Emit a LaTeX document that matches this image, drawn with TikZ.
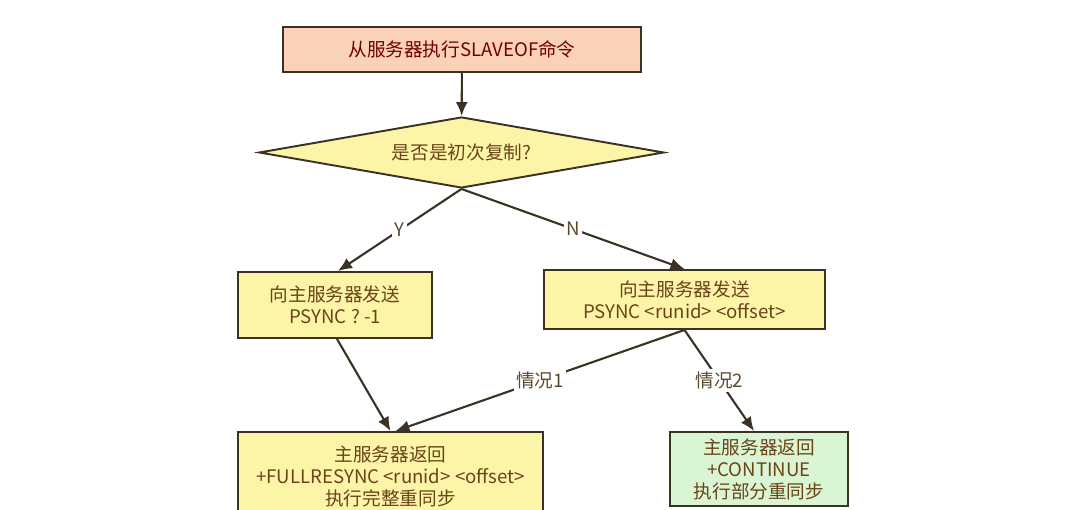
\documentclass[tikz,border=0pt]{standalone}
\usepackage{fontspec}
\setmainfont{Noto Sans CJK SC}
\usepackage{tikz}
\usetikzlibrary{arrows.meta,shapes.geometric}
\definecolor{edgecol}{HTML}{3A3222}
\definecolor{salmonfill}{HTML}{F9D2B8}
\definecolor{yellowfill}{HTML}{FCF5A8}
\definecolor{greenfill}{HTML}{DAF5D4}
\definecolor{boxtext}{HTML}{6A4418}
\definecolor{labeltext}{HTML}{5C4A2E}

\begin{document}
\begin{tikzpicture}[every node/.style={font=\fontsize{10.6}{12.5}\selectfont, align=center, text=boxtext},
	>={Latex[length=2.8mm,width=2.4mm]},
	box/.style={draw=edgecol, line width=1.1pt, fill=yellowfill, inner sep=0pt},
	flow/.style={->, draw=edgecol, line width=1.2pt},
	tag/.style={fill=white, inner sep=1.5pt, text=labeltext}]
	\useasboundingbox (0,0) rectangle (21.6,-10.2);
	\begin{scope}
	\clip (0,0) rectangle (21.6,-10.2);
	\node[box, fill=salmonfill, text=red!45!black, minimum width=7.16cm, minimum height=0.9cm] (start) at (9.24,-0.99) {从服务器执行SLAVEOF命令};
	\node[box, diamond, aspect=5.7, minimum width=8.1cm, minimum height=1.42cm] (first) at (9.23,-3.05) {是否是初次复制?};
	\node[box, minimum width=3.88cm, minimum height=1.32cm] (full) at (6.70,-6.10) {向主服务器发送\\PSYNC ? -1};
	\node[box, minimum width=5.62cm, minimum height=1.18cm] (part) at (13.69,-5.99) {向主服务器发送\\PSYNC <runid> <offset>};
	\node[box, minimum width=6.10cm, minimum height=1.76cm] (fullret) at (7.81,-9.52) {主服务器返回\\+FULLRESYNC <runid> <offset>\\执行完整重同步};
	\node[box, fill=greenfill, minimum width=3.56cm, minimum height=1.48cm] (contret) at (15.18,-9.38) {主服务器返回\\+CONTINUE\\执行部分重同步};
	\end{scope}
	\draw[flow] (start) -- (first);
	\draw[flow] (first.south) -- node[tag] {Y} ([xshift=0.06cm]full.north);
	\draw[flow] (first.south) -- node[tag] {N} (part.north);
	\draw[flow] ([xshift=0.04cm]full.south) -- (fullret.north);
	\draw[flow] (part.south) -- node[tag] {情况1} ([xshift=0.1cm]fullret.north);
	\draw[flow] (part.south) -- node[tag] {情况2} ([xshift=-0.1cm]contret.north);
\end{tikzpicture}
\end{document}
